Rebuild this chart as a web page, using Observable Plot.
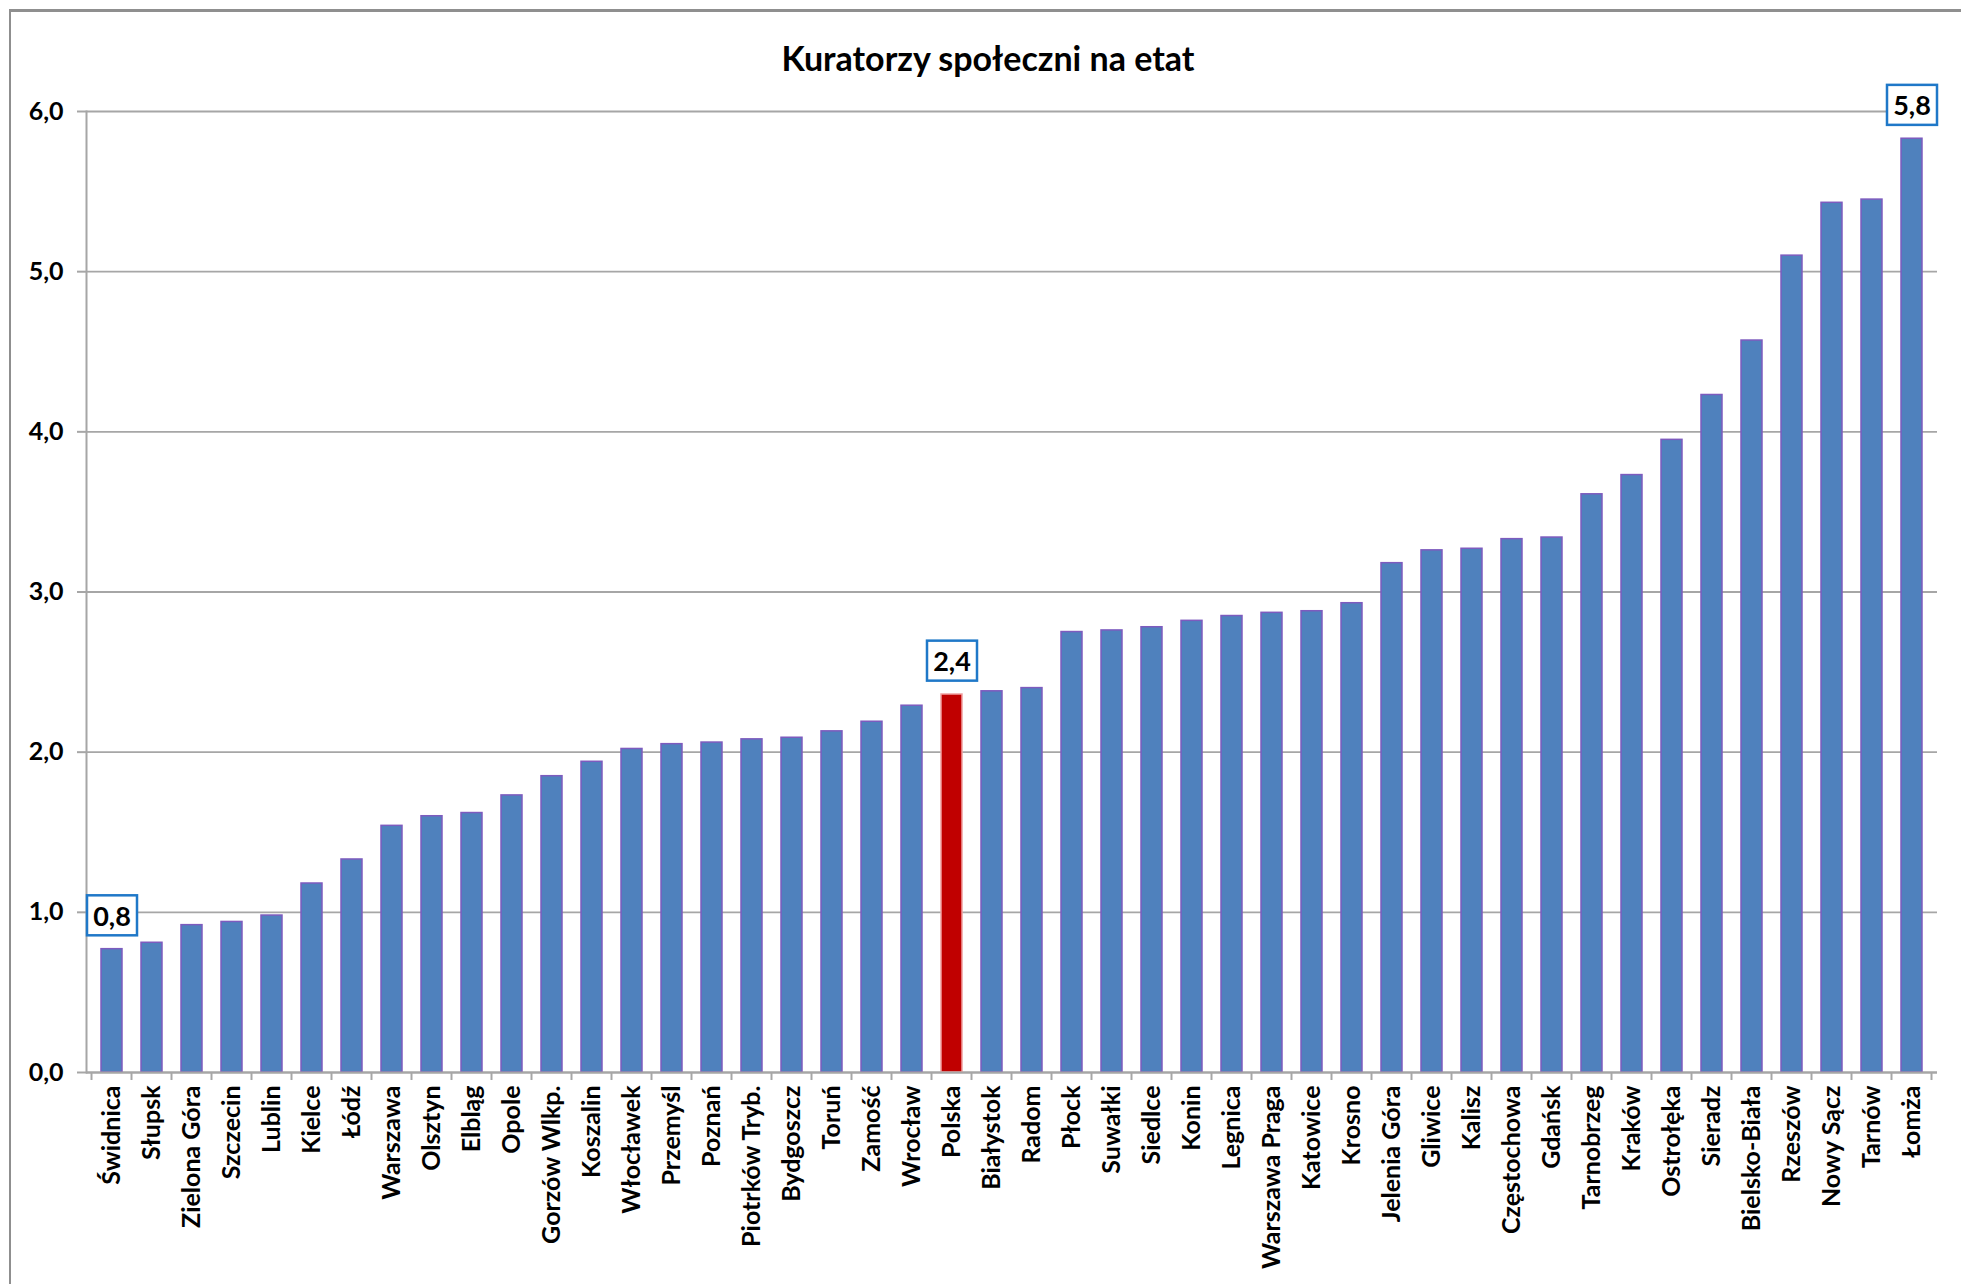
<!DOCTYPE html>
<html>
<head>
<meta charset="utf-8">
<script src="https://cdn.jsdelivr.net/npm/d3@7"></script>
<script src="https://cdn.jsdelivr.net/npm/@observablehq/plot@0.6"></script>
<style>
  body { margin: 0; background: #fff; }
  #wrap { position: relative; width: 1961px; height: 1284px; overflow: hidden; background: #fff; }
  #border { position: absolute; left: 9px; top: 9px; width: 2000px; height: 1400px;
            border-left: 2px solid #8f8f8f; border-top: 3px solid #8f8f8f; }
  #chart { position: absolute; left: 0; top: 0; }
</style>
</head>
<body>
<div id="wrap"><div id="border"></div><div id="chart"></div></div>
<script>
const title = "Kuratorzy społeczni na etat";

const categories = [
  "Świdnica", "Słupsk", "Zielona Góra", "Szczecin", "Lublin", "Kielce", "Łódź", "Warszawa",
  "Olsztyn", "Elbląg", "Opole", "Gorzów Wlkp.", "Koszalin", "Włocławek", "Przemyśl", "Poznań",
  "Piotrków Tryb.", "Bydgoszcz", "Toruń", "Zamość", "Wrocław", "Polska", "Białystok", "Radom",
  "Płock", "Suwałki", "Siedlce", "Konin", "Legnica", "Warszawa Praga", "Katowice", "Krosno",
  "Jelenia Góra", "Gliwice", "Kalisz", "Częstochowa", "Gdańsk", "Tarnobrzeg", "Kraków", "Ostrołęka",
  "Sieradz", "Bielsko-Biała", "Rzeszów", "Nowy Sącz", "Tarnów", "Łomża"
];

const values = [
  0.77, 0.81, 0.92, 0.94, 0.98, 1.18, 1.33, 1.54,
  1.60, 1.62, 1.73, 1.85, 1.94, 2.02, 2.05, 2.06,
  2.08, 2.09, 2.13, 2.19, 2.29, 2.36, 2.38, 2.40,
  2.75, 2.76, 2.78, 2.82, 2.85, 2.87, 2.88, 2.93,
  3.18, 3.26, 3.27, 3.33, 3.34, 3.61, 3.73, 3.95,
  4.23, 4.57, 5.10, 5.43, 5.45, 5.83
];

const yTicks = [0, 1, 2, 3, 4, 5, 6];
const highlight = "Polska";
const labeled = ["Świdnica", "Polska", "Łomża"];

const data = categories.map((c, i) => ({ city: c, value: values[i] }));
const fmt = v => d3.format(".1f")(v).replace(".", ",");
const FONT = "Lato, 'Open Sans', sans-serif";
const labelData = data.filter(d => labeled.includes(d.city));
const labelTexts = labelData.map(d => fmt(d.value));

const plot = Plot.plot({
  width: 1961,
  height: 1284,
  marginLeft: 86,
  marginRight: 24,
  marginTop: 111,
  marginBottom: 212,
  style: { fontFamily: FONT, fontWeight: "bold", fontSize: "25px", color: "#000", background: "transparent" },
  x: { domain: categories, paddingInner: 0.48, paddingOuter: 0.24, label: null },
  y: { domain: [0, 6], label: null },
  marks: [
    Plot.gridY(yTicks, { stroke: "#a6a6a6", strokeOpacity: 1, strokeWidth: 1.8 }),
    Plot.barY(data, {
      x: "city", y: "value",
      fill: d => d.city === highlight ? "#c00000" : "#4f81bd",
      stroke: d => d.city === highlight ? "#f0a0a0" : "#7d5bbe",
      strokeWidth: 1.5
    }),
    Plot.ruleY([0], { stroke: "#a6a6a6", strokeWidth: 2 }),
    Plot.frame({ anchor: "left", stroke: "#a6a6a6", strokeWidth: 2 }),
    Plot.axisY(yTicks, { tickFormat: fmt, tickSize: 9, stroke: "#a6a6a6", strokeWidth: 2, tickPadding: 14, fontSize: 25, label: null }),
    Plot.axisX({ tickRotate: -90, tickSize: 0, tickPadding: 13, fontSize: 25, label: null }),
    Plot.text(labelData, {
      x: "city", y: "value", text: d => fmt(d.value),
      dy: -32, fontSize: 27, fontWeight: "bold", fill: "#000"
    }),
    Plot.text([title], { frameAnchor: "top", dx: -24, dy: -65, fontSize: 34, fontWeight: "bold", fill: "#000" })
  ]
});

document.getElementById("chart").appendChild(plot);

// category separator ticks below the x axis, derived from the band scale
const xs = plot.scale("x");
const ys = plot.scale("y");
const svg = d3.select(plot);
const bw = xs.bandwidth;
const step = xs.apply(categories[1]) - xs.apply(categories[0]);
const y0 = ys.apply(0);
const bounds = categories.map(c => xs.apply(c) + bw / 2 - step / 2);
bounds.push(bounds[bounds.length - 1] + step);
svg.append("g").selectAll("line").data(bounds).join("line")
  .attr("x1", d => d).attr("x2", d => d)
  .attr("y1", y0).attr("y2", y0 + 8)
  .attr("stroke", "#a6a6a6").attr("stroke-width", 2);

// boxes behind value labels
plot.querySelectorAll('g[aria-label="text"] text').forEach(t => {
  if (!labelTexts.includes(t.textContent)) return;
  const b = t.getBBox();
  const cx = b.x + b.width / 2, cy = b.y + b.height / 2;
  const r = document.createElementNS("http://www.w3.org/2000/svg", "rect");
  r.setAttribute("x", cx - 25);
  r.setAttribute("y", cy - 20);
  r.setAttribute("width", 50);
  r.setAttribute("height", 40);
  r.setAttribute("fill", "#fff");
  r.setAttribute("stroke", "#1f78c8");
  r.setAttribute("stroke-width", 2.5);
  const tr = t.getAttribute("transform");
  if (tr) r.setAttribute("transform", tr);
  t.parentNode.insertBefore(r, t);
});
</script>
</body>
</html>
